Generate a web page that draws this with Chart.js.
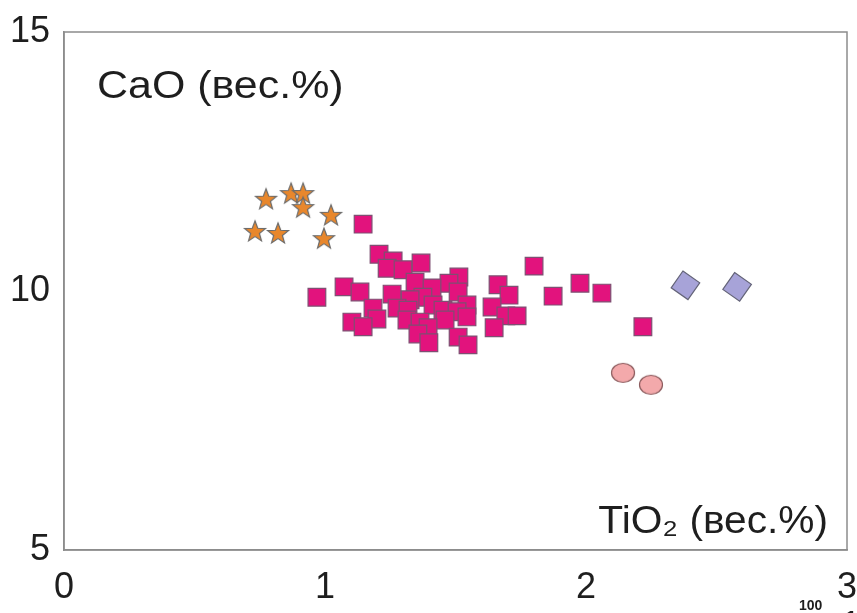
<!DOCTYPE html>
<html>
<head>
<meta charset="utf-8">
<script src="https://cdn.jsdelivr.net/npm/chart.js@4.4.1/dist/chart.umd.min.js"></script>
<style>
  html, body { margin: 0; padding: 0; background: #fff; overflow: hidden; }
  #wrap { width: 857px; height: 613px; position: relative; }
  #plot { display: block; }
</style>
</head>
<body>
<div id="wrap"><canvas id="plot" width="857" height="613"></canvas></div>
<script>
// данные (TiO2 / CaO, вес.%)
const squareX = [1.146, 0.969, 1.073, 1.134, 1.207, 1.261, 1.238, 1.299, 1.368, 1.345,
                 1.513, 1.475, 1.410, 1.510, 1.544, 1.375, 1.326, 1.257, 1.276, 1.318,
                 1.414, 1.452, 1.506, 1.544, 1.314, 1.364, 1.460, 1.395, 1.356, 1.398,
                 1.510, 1.548, 1.184, 1.199, 1.103, 1.146, 1.663, 1.705, 1.640, 1.693,
                 1.736, 1.648, 1.801, 1.874, 1.977, 2.061, 2.218];
const squareY = [11.29, 9.88, 10.08, 9.98, 10.71, 10.58, 10.44, 10.41, 10.54, 10.17,
                 10.27, 10.15, 10.06, 9.98, 9.73, 9.88, 9.83, 9.94, 9.67, 9.63,
                 9.73, 9.63, 9.60, 9.50, 9.44, 9.40, 9.44, 9.29, 9.17, 9.00,
                 9.11, 8.96, 9.67, 9.46, 9.40, 9.31, 10.12, 9.92, 9.69, 9.52,
                 9.52, 9.29, 10.48, 9.90, 10.15, 9.96, 9.31];
const starX = [0.774, 0.870, 0.916, 0.916, 1.023, 0.732, 0.820, 0.996];
const starY = [11.78, 11.89, 11.89, 11.62, 11.47, 11.16, 11.12, 11.02];
const diamondX = [2.381, 2.579];
const diamondY = [10.11, 10.08];
const circleX = [2.142, 2.249];
const circleY = [8.42, 8.19];

const xTicks = [0, 1, 2, 3];
const yTicks = [5, 10, 15];

const FONT = '"Liberation Sans", Arial, sans-serif';

function pts(xs, ys) {
    return xs.map((x, i) => ({ x: x, y: ys[i] }));
}

// без внутренних отступов шкалы
function noPad(s) {
    s.paddingLeft = 0; s.paddingRight = 0; s.paddingTop = 0; s.paddingBottom = 0;
    s.getPadding = () => ({ left: 0, top: 0, right: 0, bottom: 0 });
}

// звёздочка
function makeStar() {
    const c = document.createElement('canvas');
    c.width = 26; c.height = 26;
    const g = c.getContext('2d');
    g.beginPath();
    for (let i = 0; i < 10; i++) {
        const r = i % 2 === 0 ? 11 : 4.6;
        const a = -Math.PI / 2 + i * Math.PI / 5;
        const px = 13 + r * Math.cos(a), py = 14 + r * Math.sin(a);
        if (i === 0) g.moveTo(px, py); else g.lineTo(px, py);
    }
    g.closePath();
    g.fillStyle = '#e8872c';
    g.fill();
    g.lineWidth = 1.2;
    g.strokeStyle = '#6b6b6b';
    g.stroke();
    return c;
}

// овал
function makeEllipse() {
    const c = document.createElement('canvas');
    c.width = 26; c.height = 22;
    const g = c.getContext('2d');
    g.beginPath();
    g.ellipse(13, 11, 11.5, 9.5, 0, 0, Math.PI * 2);
    g.fillStyle = '#f3a9ab';
    g.fill();
    g.lineWidth = 1.2;
    g.strokeStyle = '#8c5c5e';
    g.stroke();
    return c;
}

// растянутый текст
function wideText(ctx, txt, x, y, sx) {
    ctx.save();
    ctx.translate(x, y);
    ctx.scale(sx, 1);
    ctx.fillText(txt, 0, 0);
    ctx.restore();
}

const frame = {
    id: 'frame',
    beforeDatasetsDraw(chart) {
        const a = chart.chartArea, ctx = chart.ctx;
        ctx.save();
        ctx.strokeStyle = '#8c8c8c';
        ctx.lineWidth = 1.5;
        ctx.strokeRect(a.left, a.top, a.right - a.left, a.bottom - a.top);
        ctx.restore();
    },
    afterDraw(chart) {
        const a = chart.chartArea, ctx = chart.ctx;
        ctx.save();
        ctx.fillStyle = '#1e1e1e';
        ctx.textBaseline = 'alphabetic';
        ctx.font = '38px ' + FONT;
        ctx.textAlign = 'left';
        wideText(ctx, 'CaO (вес.%)', a.left + 33, a.top + 66, 1.13);
        ctx.textAlign = 'right';
        wideText(ctx, 'TiO₂ (вес.%)', a.right - 19, a.bottom - 17, 1.07);
        ctx.font = 'bold 14px ' + FONT;
        ctx.textAlign = 'left';
        ctx.fillText('100', 799, 610);
        ctx.font = 'bold 22px ' + FONT;
        ctx.fillText('1', 845, 626);
        ctx.restore();
    }
};

new Chart(document.getElementById('plot'), {
    type: 'scatter',
    data: {
        datasets: [
            {
                label: 'squares',
                data: pts(squareX, squareY),
                pointStyle: 'rect',
                pointRadius: 12.5,
                backgroundColor: '#e2137d',
                borderColor: '#7e4f72',
                borderWidth: 1.2
            },
            {
                label: 'stars',
                data: pts(starX, starY),
                pointStyle: makeStar()
            },
            {
                label: 'diamonds',
                data: pts(diamondX, diamondY),
                pointStyle: 'rect',
                rotation: 35,
                pointRadius: 14.5,
                backgroundColor: '#a7a3d8',
                borderColor: '#646478',
                borderWidth: 1.2
            },
            {
                label: 'circles',
                data: pts(circleX, circleY),
                pointStyle: makeEllipse()
            }
        ]
    },
    options: {
        responsive: false,
        animation: false,
        events: [],
        layout: { autoPadding: false, padding: { top: 32, right: 10, left: 0, bottom: 0 } },
        plugins: {
            legend: { display: false },
            tooltip: { enabled: false }
        },
        scales: {
            x: {
                type: 'linear',
                min: 0,
                max: 3,
                afterFit: (s) => { s.height = 63; noPad(s); },
                afterBuildTicks: (s) => { s.ticks = xTicks.map(v => ({ value: v })); },
                grid: { display: false },
                border: { display: true, color: '#8c8c8c', width: 1.5 },
                ticks: {
                    padding: 8,
                    color: '#1e1e1e',
                    font: { family: FONT, size: 36 },
                    maxRotation: 0,
                    autoSkip: false
                }
            },
            y: {
                type: 'linear',
                min: 5,
                max: 15,
                afterFit: (s) => { s.width = 64; noPad(s); },
                afterBuildTicks: (s) => { s.ticks = yTicks.map(v => ({ value: v })); },
                grid: { display: false },
                border: { display: true, color: '#8c8c8c', width: 1.5 },
                ticks: {
                    padding: 6,
                    color: '#1e1e1e',
                    font: { family: FONT, size: 36 },
                    autoSkip: false
                }
            }
        }
    },
    plugins: [frame]
});
</script>
</body>
</html>
